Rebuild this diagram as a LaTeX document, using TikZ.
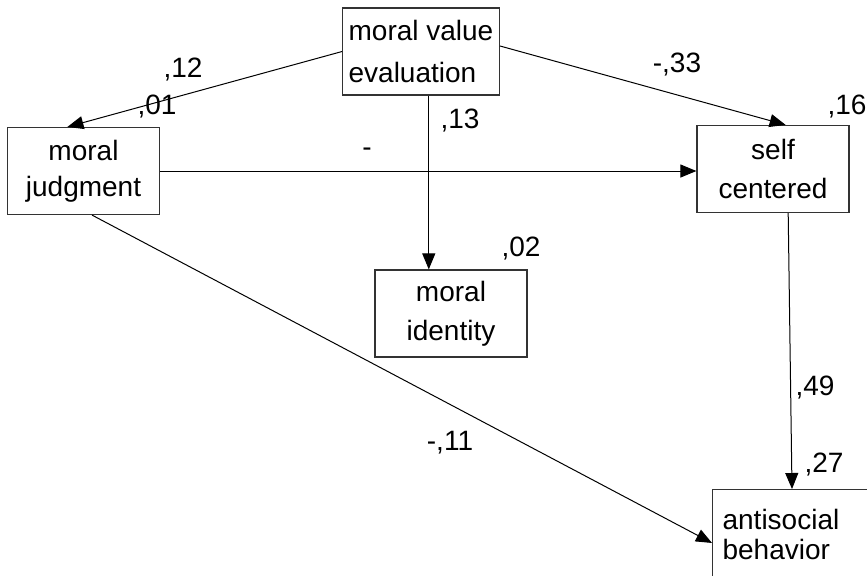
\documentclass[tikz,border=0pt]{standalone}
\usepackage{fontspec}
\setmainfont{Liberation Sans}
\usetikzlibrary{arrows.meta}

\begin{document}
\begin{tikzpicture}[x=0.5pt,y=-0.5pt,
 font=\fontsize{14}{19.5}\selectfont,
 var/.style={draw=black!80,line width=0.6pt,align=center,inner sep=0pt,minimum width=76pt,minimum height=43.5pt},
 num/.style={inner sep=0pt},
 path/.style={line width=0.5pt,-{Triangle[length=8pt,width=6.5pt]}}]
 \useasboundingbox (0,0) rectangle (867,575);
 \clip (0,0) rectangle (867,575);
 % variables
 \node[var,align=left,inner xsep=3pt,font=\fontsize{14}{21}\selectfont](mve) at (421,51.5){moral value\\evaluation};
 \node[var,font=\fontsize{14}{18}\selectfont](mj) at (83.5,171){moral\\judgment};
 \node[var](sc) at (773,169){self\\centered};
 \node[var](mi) at (451,313.5){moral\\identity};
 \node[var,anchor=north west,align=left,text width=85pt,inner xsep=5pt,minimum height=45pt,
  font=\fontsize{14}{15}\selectfont](asb) at (712,489){antisocial\\behavior\\[2pt]};
 % paths
 \draw[path](mve.west) -- (mj.110);
 \draw[path](mve.4) -- (sc.74);
 \draw[path](mve.-80) -- (mve.-80 |- mi.north);
 \draw[path](mj.east) -- (sc.west |- mj.east);
 \draw[path](mj.-79) -- (asb.185);
 \draw[path](sc.-71) -- (asb.north west -| 792,0);
 % coefficients
 \node[num](l12) at (183,70){,12};
 \node[num](r01) at (157,107){,01};
 \node[num](l13) at (460,121){,13};
 \node[num](ldash) at (367,152){-};
 \node[num](l33) at (677,65){-,33};
 \node[num](r16) at (847,107){,16};
 \node[num](r02) at (521,249){,02};
 \node[num](l49) at (815,388){,49};
 \node[num](l11) at (450,443){-,11};
 \node[num](r27) at (824,465){,27};
\end{tikzpicture}
\end{document}
